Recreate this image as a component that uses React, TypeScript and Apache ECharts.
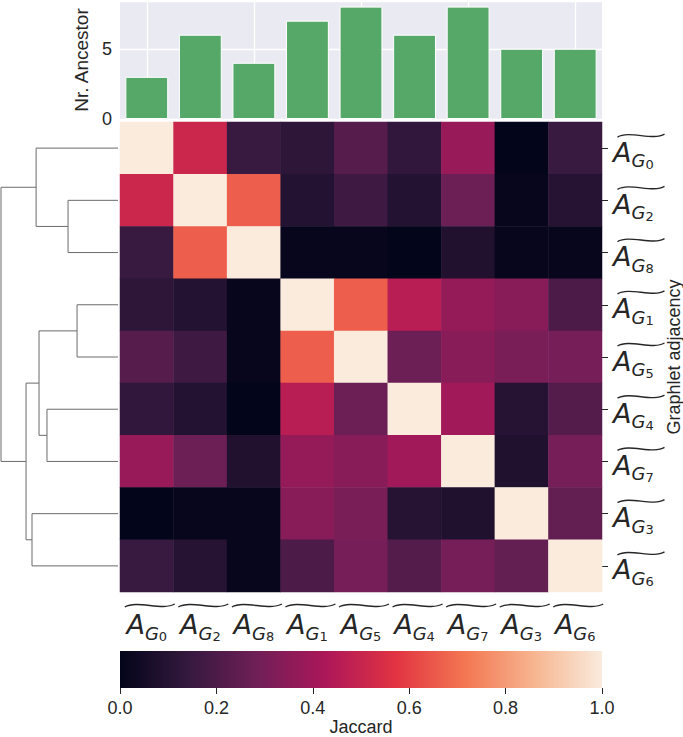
import React, { useEffect, useRef } from "react";
import * as echarts from "echarts";

// graphlet indices, in clustered display order
const graphlets = ["0", "2", "8", "1", "5", "4", "7", "3", "6"];
// number of ancestors per graphlet (same order)
const ancestorCounts = [3, 6, 4, 7, 8, 6, 8, 5, 5];
// Jaccard similarity matrix (rows/cols in display order)
const jaccard = [
  [1.0, 0.51, 0.15, 0.12, 0.22, 0.13, 0.38, 0.0, 0.15],
  [0.51, 1.0, 0.665, 0.09, 0.165, 0.09, 0.275, 0.01, 0.1],
  [0.15, 0.665, 1.0, 0.01, 0.01, 0.0, 0.085, 0.01, 0.01],
  [0.12, 0.09, 0.01, 1.0, 0.665, 0.46, 0.37, 0.34, 0.2],
  [0.22, 0.165, 0.01, 0.665, 1.0, 0.275, 0.34, 0.31, 0.3],
  [0.13, 0.09, 0.0, 0.46, 0.275, 1.0, 0.4, 0.1, 0.215],
  [0.38, 0.275, 0.085, 0.37, 0.34, 0.4, 1.0, 0.083, 0.3],
  [0.0, 0.01, 0.01, 0.34, 0.31, 0.1, 0.083, 1.0, 0.255],
  [0.15, 0.1, 0.01, 0.2, 0.3, 0.215, 0.3, 0.255, 1.0],
];
// row dendrogram linkage: [childA, childB, height]; leaves 0..8, merges numbered from 9
const linkage = [
  [1, 2, 0.427],
  [0, 9, 0.7],
  [3, 4, 0.35],
  [5, 6, 0.607],
  [11, 12, 0.675],
  [7, 8, 0.735],
  [13, 14, 0.786],
  [10, 15, 1.0],
];
// rocket colormap stops
const rocket = ["#03051a", "#35193e", "#701f57", "#ad1759", "#e13342", "#f37651", "#f6b48f", "#faebdd"];
const barTicks = [0, 5];
const colorbarTicks = [0, 0.2, 0.4, 0.6, 0.8, 1.0];

const TXT = "#262626";
const SANS = "Liberation Sans, Arial, sans-serif";
const MATH = "DejaVu Sans";
const FS = 18;

const mathRich = {
  a: { fontFamily: MATH, fontStyle: "italic", fontSize: 27, color: TXT, verticalAlign: "bottom", padding: [0, 0, 5, 0] },
  g: { fontFamily: MATH, fontStyle: "italic", fontSize: 18, color: TXT, verticalAlign: "bottom", padding: [0, 0, 1, 0] },
  n: { fontFamily: MATH, fontSize: 13, color: TXT, verticalAlign: "bottom" },
};
const mathLabel = (v: string) => `{a|A}{g|G}{n|${v}}`;

function tilde(x: number, y: number, w: number) {
  return {
    type: "bezierCurve",
    shape: {
      x1: x - w / 2, y1: y + 2,
      cpx1: x - w / 2 + w * 0.25, cpy1: y - 5,
      cpx2: x + w / 2 - w * 0.25, cpy2: y + 6,
      x2: x + w / 2, y2: y - 1,
    },
    style: { stroke: TXT, lineWidth: 1.4, fill: null },
  };
}

export default function App() {
  const ref = useRef<HTMLDivElement>(null);
  useEffect(() => {
    if (!ref.current) return;
    const chart = echarts.init(ref.current, null, { renderer: "svg" });

    // dendrogram link segments
    const pos: number[] = graphlets.map((_, i) => i);
    const hgt: number[] = graphlets.map(() => 0);
    const links: number[][] = [];
    linkage.forEach(([a, b, h]) => {
      links.push([pos[a], hgt[a], pos[b], hgt[b], h]);
      pos.push((pos[a] + pos[b]) / 2);
      hgt.push(h);
    });

    const heatData: number[][] = [];
    jaccard.forEach((row, r) => row.forEach((v, c) => heatData.push([c, r, v])));

    const option: any = {
      animation: false,
      backgroundColor: "#ffffff",
      grid: [
        { left: 120, top: 1, width: 482, height: 118, show: true, backgroundColor: "#EAEAF2", borderWidth: 0, containLabel: false, outerBoundsMode: "none" },
        { left: 120, top: 122, width: 482, height: 470, containLabel: false, outerBoundsMode: "none" },
        { left: 1, top: 122, width: 117, height: 470, containLabel: false, outerBoundsMode: "none" },
        { left: 120, top: 651, width: 482, height: 37, containLabel: false, outerBoundsMode: "none" },
      ],
      xAxis: [
        { gridIndex: 0, type: "category", data: graphlets, axisLine: { show: false }, axisTick: { show: false }, axisLabel: { show: false }, splitLine: { show: false } },
        {
          gridIndex: 1, type: "category", data: graphlets, position: "bottom",
          axisLine: { show: false }, axisTick: { show: false }, splitLine: { show: false },
          axisLabel: { interval: 0, margin: 19, formatter: mathLabel, rich: mathRich },
        },
        { gridIndex: 2, type: "value", min: 0, max: 1, inverse: true, show: false },
        {
          gridIndex: 3, type: "value", min: 0, max: 1, interval: 0.2,
          axisLine: { show: false }, splitLine: { show: false },
          axisTick: { show: true, length: 6, lineStyle: { color: TXT, width: 1 } },
          axisLabel: { margin: 11, fontSize: FS, fontFamily: SANS, color: TXT, formatter: (v: number) => v.toFixed(1) },
          name: "Jaccard", nameLocation: "middle", nameGap: 29,
          nameTextStyle: { fontSize: FS, fontFamily: SANS, color: TXT, lineHeight: 18 },
        },
      ],
      yAxis: [
        {
          gridIndex: 0, type: "value", min: 0, max: 8.4, interval: 5,
          axisLine: { show: false }, axisTick: { show: false },
          axisLabel: { margin: 8, fontSize: FS, fontFamily: SANS, color: TXT, showMaxLabel: false },
          splitLine: { show: true, lineStyle: { color: "#ffffff", width: 1.3 } },
          name: "Nr. Ancestor", nameLocation: "middle", nameRotate: 90, nameGap: 27,
          nameTextStyle: { fontSize: FS + 1, fontFamily: SANS, color: TXT },
        },
        {
          gridIndex: 1, type: "category", data: graphlets, inverse: true, position: "right",
          axisLine: { show: false }, splitLine: { show: false },
          axisTick: { show: true, alignWithLabel: true, interval: 0, length: 6, inside: false, lineStyle: { color: TXT, width: 1 } },
          axisLabel: { interval: 0, margin: 11, align: "left", padding: [13, 0, 0, 0], formatter: mathLabel, rich: mathRich },
          name: "Graphlet adjacency", nameLocation: "middle", nameRotate: 90, nameGap: 62,
          nameTextStyle: { fontSize: FS, fontFamily: SANS, color: TXT, lineHeight: 18 },
        },
        { gridIndex: 2, type: "value", min: -0.5, max: 8.5, inverse: true, show: false },
        { gridIndex: 3, type: "value", min: 0, max: 1, show: false },
      ],
      visualMap: {
        show: false, type: "continuous", min: 0, max: 1, seriesIndex: 1, dimension: 2,
        inRange: { color: rocket },
      },
      series: [
        {
          type: "bar", xAxisIndex: 0, yAxisIndex: 0, data: ancestorCounts, barWidth: "80%", z: 3,
          itemStyle: { color: "#55A868", borderColor: "#ffffff", borderWidth: 1 },
          markLine: {
            silent: true, symbol: "none", z: 1, label: { show: false },
            lineStyle: { color: "#ffffff", width: 1.3, type: "solid" },
            data: graphlets.filter((_, i) => i % 2 === 0).map((g) => ({ xAxis: g })),
          },
        },
        {
          type: "heatmap", xAxisIndex: 1, yAxisIndex: 1, data: heatData, progressive: 0,
          itemStyle: { borderWidth: 0 }, emphasis: { disabled: true },
        },
        {
          type: "custom", xAxisIndex: 1, yAxisIndex: 1, clip: false, silent: true,
          data: graphlets.map((_, i) => [i, i]),
          renderItem: (params: any, api: any) => {
            const k = api.value(0);
            const cs = params.coordSys;
            const p = api.coord([k, k]);
            return {
              type: "group",
              children: [
                tilde(p[0] + 3, cs.y + cs.height + 13, 50),
                tilde(cs.x + cs.width + 39, p[1] - 13, 47),
              ],
            };
          },
        },
        {
          type: "custom", xAxisIndex: 2, yAxisIndex: 2, clip: false, silent: true,
          data: links,
          renderItem: (params: any, api: any) => {
            const pa = api.value(0), ha = api.value(1), pb = api.value(2), hb = api.value(3), h = api.value(4);
            const pts = [api.coord([ha, pa]), api.coord([h, pa]), api.coord([h, pb]), api.coord([hb, pb])];
            return { type: "polyline", shape: { points: pts }, style: { stroke: "#6b6b6b", lineWidth: 1, fill: null } };
          },
        },
        {
          type: "custom", xAxisIndex: 3, yAxisIndex: 3, clip: false, silent: true,
          data: [[colorbarTicks[0], colorbarTicks[colorbarTicks.length - 1]]],
          renderItem: (params: any, api: any) => {
            const p0 = api.coord([api.value(0), 0]);
            const p1 = api.coord([api.value(1), 1]);
            return {
              type: "rect",
              shape: { x: p0[0], y: p1[1], width: p1[0] - p0[0], height: p0[1] - p1[1] },
              style: {
                fill: new echarts.graphic.LinearGradient(0, 0, 1, 0,
                  rocket.map((c, i) => ({ offset: i / (rocket.length - 1), color: c }))),
              },
            };
          },
        },
      ],
    };
    chart.setOption(option);
    return () => chart.dispose();
  }, []);
  return <div ref={ref} style={{ position: "fixed", left: 0, top: 0, width: 683, height: 737 }} />;
}
